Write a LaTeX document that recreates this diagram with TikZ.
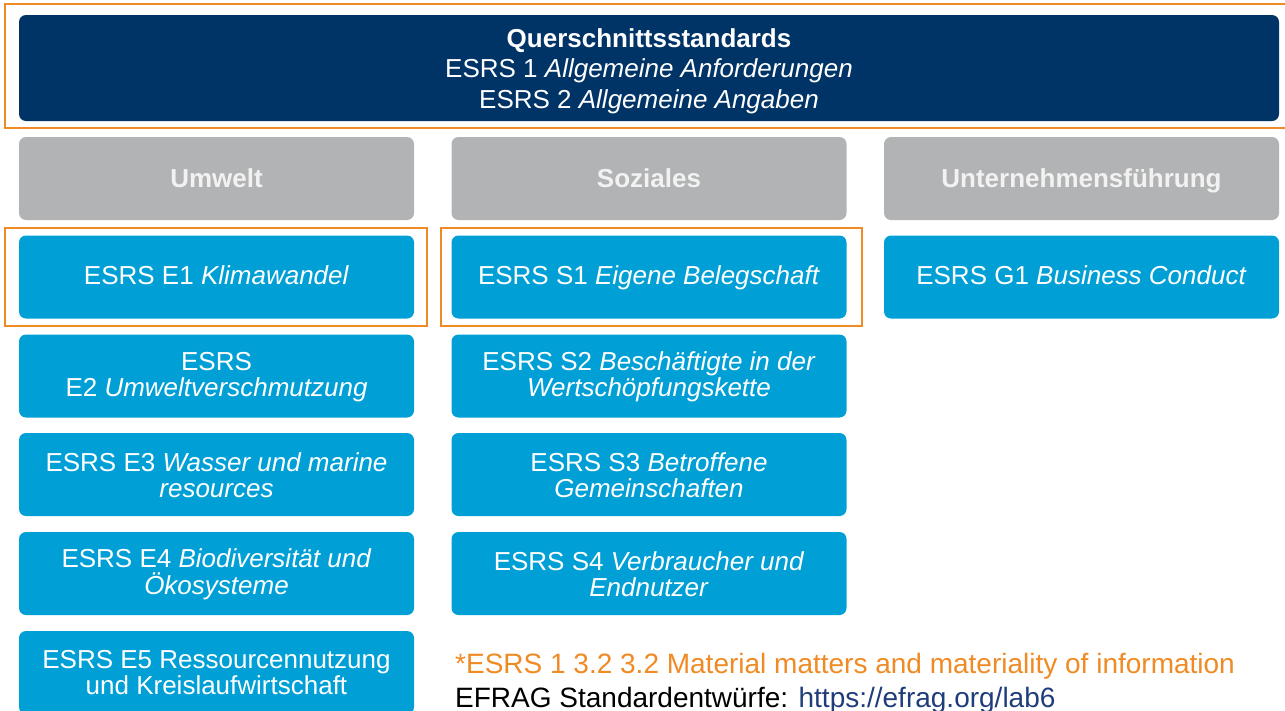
\documentclass[tikz,border=0pt]{standalone}
\usepackage{fontspec}
\setmainfont{Liberation Sans}
\definecolor{esrsnavy}{RGB}{0,51,102}
\definecolor{esrsblue}{RGB}{0,160,214}
\definecolor{esrsgray}{RGB}{178,179,180}
\definecolor{esrsorange}{RGB}{240,138,36}
\definecolor{esrslink}{RGB}{31,61,122}
\tikzset{
  topbox/.style={rectangle, rounded corners=7pt, fill=esrsnavy, text=white, align=center,
    minimum width=1260pt, minimum height=106pt, inner sep=0pt,
    font=\fontsize{26}{30.5}\selectfont},
  catbox/.style={rectangle, rounded corners=7pt, fill=esrsgray, text={black!5}, align=center,
    minimum width=395pt, minimum height=83pt, inner sep=0pt,
    text height=18.6pt, text depth=0pt,
    font=\fontsize{26}{27}\selectfont\bfseries},
  stdbox/.style={rectangle, rounded corners=7pt, fill=esrsblue, text=white, align=center,
    minimum width=395pt, minimum height=83pt, inner sep=0pt,
    font=\fontsize{26}{26.5}\selectfont},
  oneline/.style={text height=18.6pt, text depth=4pt},
  frame/.style={draw=esrsorange, line width=2.5pt},
  note/.style={anchor=base west, inner sep=0pt, font=\fontsize{28}{30}\selectfont}
}
\begin{document}
\begin{tikzpicture}[x=1pt,y=-1pt]
\useasboundingbox (0,0) rectangle (1285,710);
\clip (0,0) rectangle (1285,710);

% Querschnitt
\node[topbox] (quer) at (649,68) {\rule{0pt}{25pt}\textbf{Querschnittsstandards}\\ESRS 1 \textit{Allgemeine Anforderungen}\\ESRS 2 \textit{Allgemeine Angaben}};

% Kategorien
\node[catbox] (umwelt) at (216.5,178.5) {Umwelt};
\node[catbox] (soziales) at (649,178.5) {Soziales};
\node[catbox] (governance) at (1081.5,178.5) {Unternehmensführung};

% Umwelt
\node[stdbox, oneline] (e1) at (216.5,277) {ESRS E1 \textit{Klimawandel}};
\node[stdbox] (e2) at (216.5,376) {\rule{0pt}{20.6pt}ESRS\\E2 \textit{Umweltverschmutzung}};
\node[stdbox] (e3) at (216.5,474.5) {\rule{0pt}{20.6pt}ESRS E3 \textit{Wasser und marine}\\\textit{resources}};
\node[stdbox] (e4) at (216.5,573.5) {\rule{0pt}{20.6pt}ESRS E4 \textit{Biodiversität und}\\\textit{Ökosysteme}};
\node[stdbox] (e5) at (216.5,672.5) {ESRS E5 Ressourcennutzung\\und Kreislaufwirtschaft};

% Soziales
\node[stdbox, oneline] (s1) at (649,277) {ESRS S1 \textit{Eigene Belegschaft}};
\node[stdbox] (s2) at (649,376) {\rule{0pt}{20.6pt}ESRS S2 \textit{Beschäftigte in der}\\\textit{Wertschöpfungskette}};
\node[stdbox] (s3) at (649,474.5) {\rule{0pt}{20.6pt}ESRS S3 \textit{Betroffene}\\\textit{Gemeinschaften}};
\node[stdbox] (s4) at (649,573.5) {\rule{0pt}{20.6pt}ESRS S4 \textit{Verbraucher und}\\\textit{Endnutzer}};

% Governance
\node[stdbox, oneline] (g1) at (1081.5,277) {ESRS G1 \textit{Business Conduct}};

% Markierungen
\draw[frame] (5,4) rectangle (1295,128);
\draw[frame] (5,228) rectangle (427,326);
\draw[frame] (441,228) rectangle (862,326);

% Fussnote
\node[note, text=esrsorange] (fn) at (455,673) {*ESRS 1 3.2 3.2 Material matters and materiality of information};
\node[note] (src) at (455,707) {EFRAG Standardentwürfe: \textcolor{esrslink}{https://efrag.org/lab6}};

\end{tikzpicture}
\end{document}
